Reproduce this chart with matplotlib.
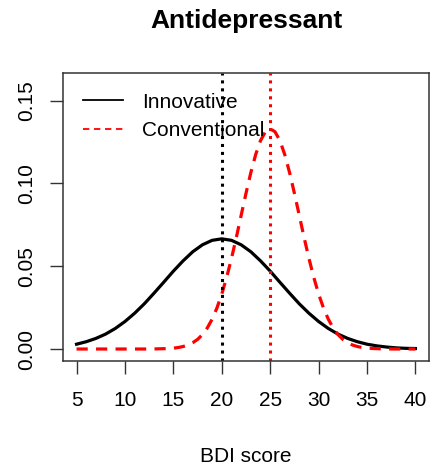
import matplotlib
matplotlib.use("Agg")
import matplotlib.pyplot as plt
from matplotlib.transforms import blended_transform_factory

plt.rcParams['font.family'] = ['Liberation Sans', 'DejaVu Sans']

title = "Antidepressant"
xlabel = "BDI score"
series_names = ["Innovative", "Conventional"]

# Innovative group density
x_innov = [5, 6, 7, 8, 9, 10, 11, 12, 13, 14, 15, 16, 17, 18, 19, 20,
           21, 22, 23, 24, 25, 26, 27, 28, 29, 30, 31, 32, 33, 34, 35,
           36, 37, 38, 39, 40]
y_innov = [0.0029, 0.0044, 0.0064, 0.0090, 0.0124, 0.0166, 0.0216, 0.0273,
           0.0337, 0.0403, 0.0470, 0.0532, 0.0587, 0.0629, 0.0656, 0.0665,
           0.0656, 0.0629, 0.0587, 0.0532, 0.0470, 0.0403, 0.0337, 0.0273,
           0.0216, 0.0166, 0.0124, 0.0090, 0.0064, 0.0044, 0.0029,
           0.0019, 0.0012, 0.0007, 0.0004, 0.0003]

# Conventional group density
x_conv = [5, 10, 12, 13, 14, 15, 15.5, 16, 16.5, 17, 17.5, 18, 18.5, 19, 19.5,
          20, 20.5, 21, 21.5, 22, 22.5, 23, 23.5, 24, 24.5, 25, 25.5, 26,
          26.5, 27, 27.5, 28, 28.5, 29, 29.5, 30, 30.5, 31, 31.5, 32, 32.5,
          33, 33.5, 34, 34.5, 35, 36, 37, 38, 40]
y_conv = [0.0, 0.0, 0.0, 0.00004, 0.0002, 0.0005, 0.0009, 0.0015, 0.0024,
          0.0038, 0.0058, 0.0087, 0.0127, 0.0180, 0.0248, 0.0332, 0.0432,
          0.0547, 0.0673, 0.0807, 0.0940, 0.1065, 0.1174, 0.1258, 0.1311,
          0.1330, 0.1311, 0.1258, 0.1174, 0.1065, 0.0940, 0.0807, 0.0673,
          0.0547, 0.0432, 0.0332, 0.0248, 0.0180, 0.0127, 0.0087, 0.0058,
          0.0038, 0.0024, 0.0015, 0.0009, 0.0005, 0.0002, 0.00004, 0.0, 0.0]

means = [20, 25]

x_ticks = [5, 10, 15, 20, 25, 30, 35, 40]
y_ticks = [0.00, 0.05, 0.10, 0.15]
y_ticklabels = ["0.00", "0.05", "0.10", "0.15"]

fig = plt.figure(figsize=(4.30, 4.69), dpi=100)
ax = fig.add_axes([63/430, 1 - 361/469, 366/430, 288/469])

ax.plot(x_innov, y_innov, color='black', lw=2.3, label=series_names[0])
ax.plot(x_conv, y_conv, color='red', lw=2.3, linestyle=(0, (3.5, 2.6)),
        label=series_names[1])
ax.axvline(means[0], color='black', lw=2.2, linestyle=(0, (1, 1.6)))
ax.axvline(means[1], color='red', lw=2.2, linestyle=(0, (1, 1.6)))

ax.set_xlim(3.6, 41.4)
ax.set_ylim(-0.00724, 0.1666)
ax.set_xticks(x_ticks)
ax.set_xticklabels([str(t) for t in x_ticks])
ax.set_yticks(y_ticks)
ax.set_yticklabels(y_ticklabels, rotation=90, va='center')
ax.tick_params(axis='both', length=9.5, width=1, labelsize=15, color='#333333')
ax.tick_params(axis='x', pad=12)
ax.tick_params(axis='y', pad=10)
for s in ax.spines.values():
    s.set_linewidth(1.1)
    s.set_color('#333333')

ax.set_xlabel(xlabel, fontsize=15, labelpad=27)
title_tr = blended_transform_factory(ax.transAxes, fig.transFigure)
ax.text(0.5, 1 - 28/469, title, transform=title_tr,
        fontsize=19, fontweight='bold', ha='center', va='baseline')

leg = ax.legend(loc='upper left', bbox_to_anchor=(0.054, 0.932), frameon=False,
                fontsize=15, handlelength=1.95, handletextpad=0.9,
                labelspacing=0.45, borderpad=0, borderaxespad=0)
for line in leg.get_lines():
    line.set_linewidth(1.3)

fig.savefig("out.png", dpi=100)
